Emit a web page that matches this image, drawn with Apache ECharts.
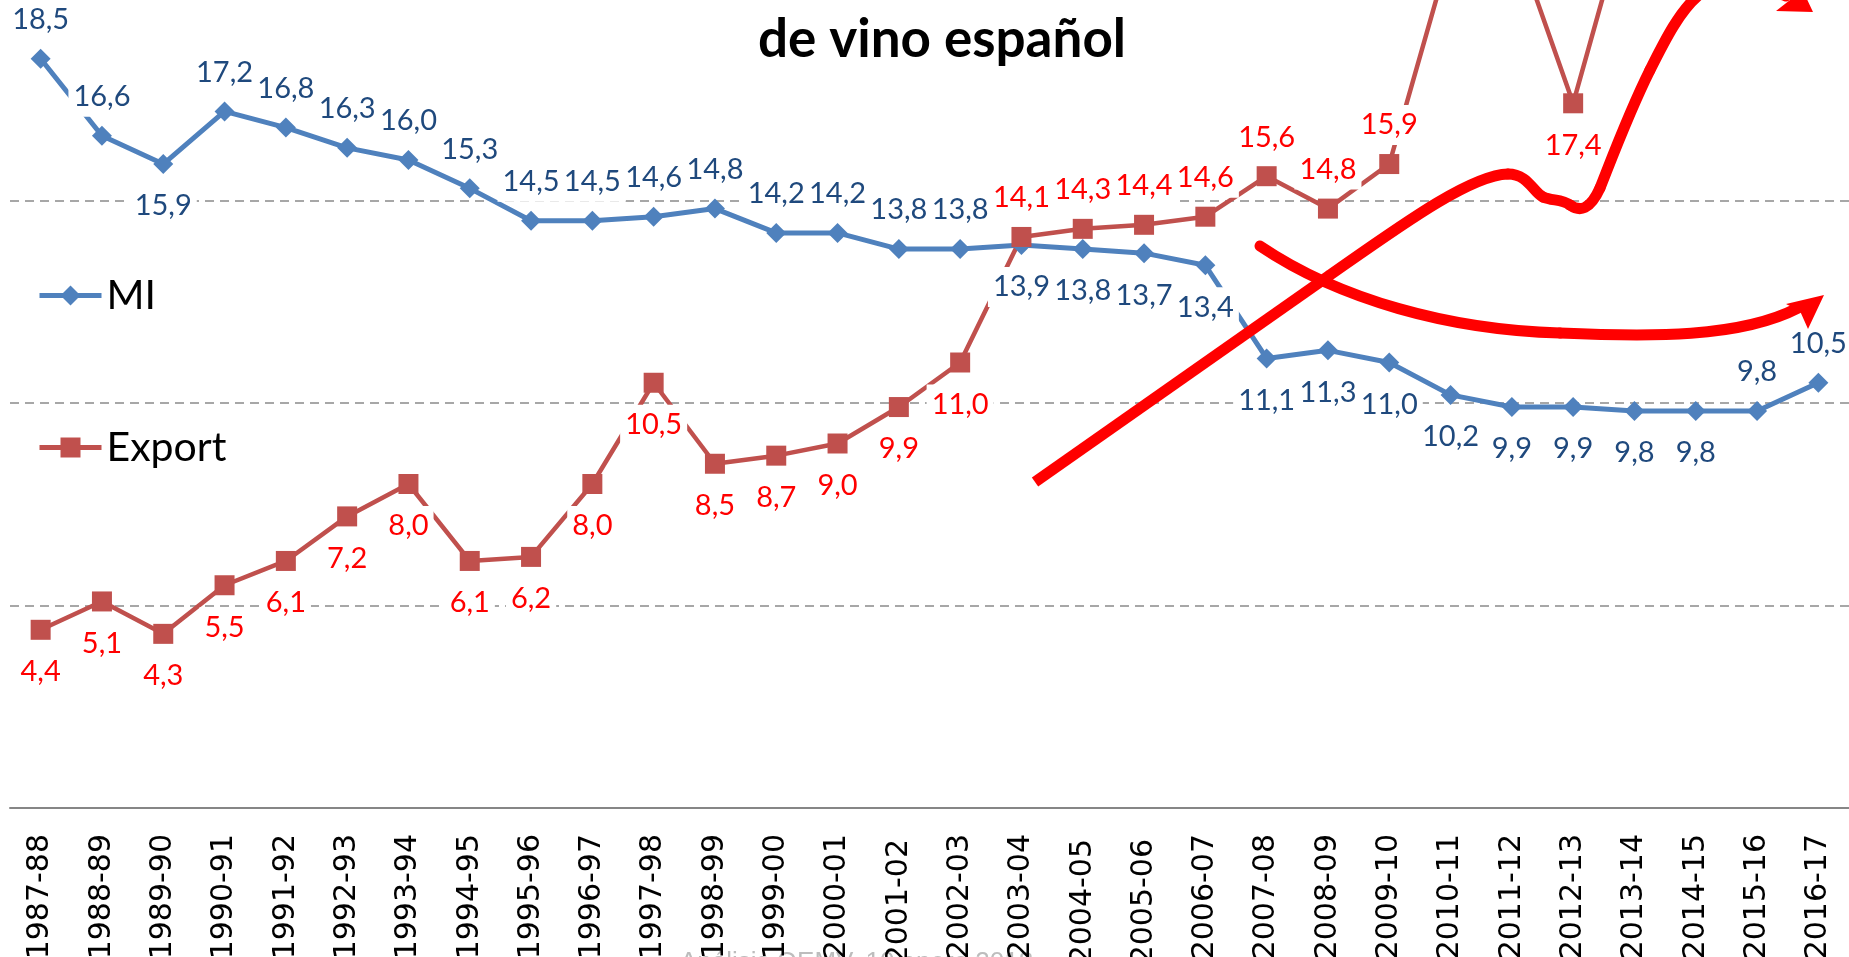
<!DOCTYPE html>
<html>
<head>
<meta charset="utf-8">
<script src="https://cdn.jsdelivr.net/npm/echarts@6/dist/echarts.min.js"></script>
<style>
  html, body { margin: 0; padding: 0; background: #fff; }
  #chart { width: 1849px; height: 957px; }
</style>
</head>
<body>
<div id="chart"></div>
<script>
// campañas
var categories = ['1987-88', '1988-89', '1989-90', '1990-91', '1991-92', '1992-93', '1993-94', '1994-95',
  '1995-96', '1996-97', '1997-98', '1998-99', '1999-00', '2000-01', '2001-02', '2002-03', '2003-04',
  '2004-05', '2005-06', '2006-07', '2007-08', '2008-09', '2009-10', '2010-11', '2011-12', '2012-13',
  '2013-14', '2014-15', '2015-16', '2016-17'];

// mercado interior (Mhl)
var miValues = [18.5, 16.6, 15.9, 17.2, 16.8, 16.3, 16.0, 15.3, 14.5, 14.5, 14.6, 14.8, 14.2, 14.2, 13.8,
  13.8, 13.9, 13.8, 13.7, 13.4, 11.1, 11.3, 11.0, 10.2, 9.9, 9.9, 9.8, 9.8, 9.8, 10.5];

// exportacion (Mhl) - the last ones go out of the picture
var exportValues = [4.4, 5.1, 4.3, 5.5, 6.1, 7.2, 8.0, 6.1, 6.2, 8.0, 10.5, 8.5, 8.7, 9.0, 9.9, 11.0,
  14.1, 14.3, 14.4, 14.6, 15.6, 14.8, 15.9, 21.2, 21.7, 17.4, 22.8, 24.0, 24.4, 22.9];

// label above (t) or below (b) the point
var miLabelSide = ['t','t','b','t','t','t','t','t','t','t','t','t','t','t','t','t',
  'b','b','b','b','b','b','b','b','b','b','b','b','t','t'];
var exportLabelSide = ['b','b','b','b','b','b','b','b','b','b','b','b','b','b','b','b',
  't','t','t','t','t','t','t','t','t','b','t','t','t','t'];

var yTicks = [0, 5, 10, 15, 20];

function withLabels(values, sides) {
  return values.map(function(v, i) {
    var top = sides[i] === 't';
    return { value: v, label: { position: top ? 'top' : 'bottom', distance: top ? 9 : 12 } };
  });
}

function fmt(p) {
  return p.value.toFixed(1).replace('.', ',');
}

var shiftedLabels = ['2001-02', '2004-05', '2005-06'];
var xData = categories.map(function(c) {
  if (shiftedLabels.indexOf(c) >= 0) {
    return { value: c, textStyle: { padding: [0, 5, 0, 0] } };
  }
  return c;
});

var labelBase = {
  show: true,
  formatter: fmt,
  fontFamily: 'Lato',
  fontSize: 29,
  lineHeight: 34,
  backgroundColor: '#ffffff',
  padding: [3, 5, 3, 5]
};

// red hand drawn strokes
var penStyle = { fill: 'none', stroke: '#FF0000', lineWidth: 11, lineCap: 'round' };
function curve(p0, c1, c2, p1) {
  return {
    type: 'bezierCurve', z: 100,
    shape: { x1: p0[0], y1: p0[1], cpx1: c1[0], cpy1: c1[1], cpx2: c2[0], cpy2: c2[1], x2: p1[0], y2: p1[1] },
    style: penStyle
  };
}

var chart = echarts.init(document.getElementById('chart'));
chart.setOption({
  animation: false,
  backgroundColor: '#ffffff',
  grid: { left: 10, right: 0, top: -2, bottom: 149, containLabel: false, outerBoundsMode: 'none' },
  legend: {
    orient: 'vertical',
    left: 32,
    top: 270,
    itemWidth: 62,
    itemHeight: 25,
    itemGap: 111,
    lineStyle: { width: 5 },
    textStyle: { fontFamily: 'Lato', fontSize: 41, color: '#000' },
    data: ['MI', 'Export']
  },
  xAxis: {
    type: 'category',
    data: xData,
    boundaryGap: true,
    axisLine: { lineStyle: { color: '#868686', width: 2 } },
    axisTick: { length: 11, lineStyle: { color: '#868686', width: 1.5 } },
    axisLabel: {
      rotate: 90,
      margin: 26,
      interval: 0,
      fontFamily: 'DejaVu Sans',
      fontSize: 30,
      color: '#000'
    }
  },
  yAxis: {
    type: 'value',
    min: yTicks[0],
    max: yTicks[yTicks.length - 1],
    interval: yTicks[1] - yTicks[0],
    axisLine: { show: false },
    axisTick: { show: false },
    axisLabel: { show: false },
    splitLine: { lineStyle: { color: '#8a8a8a', width: 1.5, type: [9, 6] } }
  },
  series: [
    {
      name: 'MI',
      type: 'line',
      clip: true,
      data: withLabels(miValues, miLabelSide),
      symbol: 'diamond',
      symbolSize: 20,
      lineStyle: { color: '#4F81BD', width: 5 },
      itemStyle: { color: '#4F81BD' },
      label: Object.assign({ color: '#1F497D' }, labelBase)
    },
    {
      name: 'Export',
      type: 'line',
      clip: true,
      data: withLabels(exportValues, exportLabelSide),
      symbol: 'rect',
      symbolSize: 20,
      lineStyle: { color: '#C0504D', width: 4.5 },
      itemStyle: { color: '#C0504D' },
      label: Object.assign({ color: '#FF0000' }, labelBase)
    }
  ],
  graphic: [
    {
      type: 'text', x: 942, y: 40, z: 50,
      style: { text: 'de vino español', font: 'bold 53px Lato', fill: '#000', align: 'center', verticalAlign: 'middle' }
    },
    {
      type: 'text', x: 680, y: 950, z: -10,
      style: { text: 'Análisis OEMV, 10 enero 2018', font: '26px "Liberation Sans"', fill: '#bdbdbd', align: 'left', verticalAlign: 'top' }
    },
    {
      type: 'line', z: 100,
      shape: { x1: 1035, y1: 482, x2: 1330, y2: 275 },
      style: { stroke: '#FF0000', lineWidth: 11 }
    },
    curve([1330, 275], [1400, 226], [1470, 175], [1508, 174]),
    curve([1508, 174], [1528, 174], [1533, 192], [1543, 197]),
    curve([1543, 197], [1552, 201], [1562, 199], [1570, 205]),
    curve([1570, 205], [1580, 212], [1590, 210], [1600, 188]),
    curve([1600, 188], [1615, 150], [1630, 110], [1650, 70]),
    curve([1650, 70], [1665, 40], [1680, 10], [1700, -6]),
    curve([1700, -6], [1730, -22], [1765, -12], [1786, -4]),
    {
      type: 'polygon', z: 100,
      shape: { points: [[1776, 11], [1813, 12], [1797, -22], [1790, 0]] },
      style: { fill: '#FF0000' }
    },
    curve([1260, 246], [1340, 300], [1450, 330], [1560, 333]),
    curve([1560, 333], [1650, 337], [1740, 338], [1798, 308]),
    {
      type: 'polygon', z: 100,
      shape: { points: [[1824, 295], [1786, 304], [1800, 311], [1808, 329]] },
      style: { fill: '#FF0000' }
    }
  ]
});
</script>
</body>
</html>
